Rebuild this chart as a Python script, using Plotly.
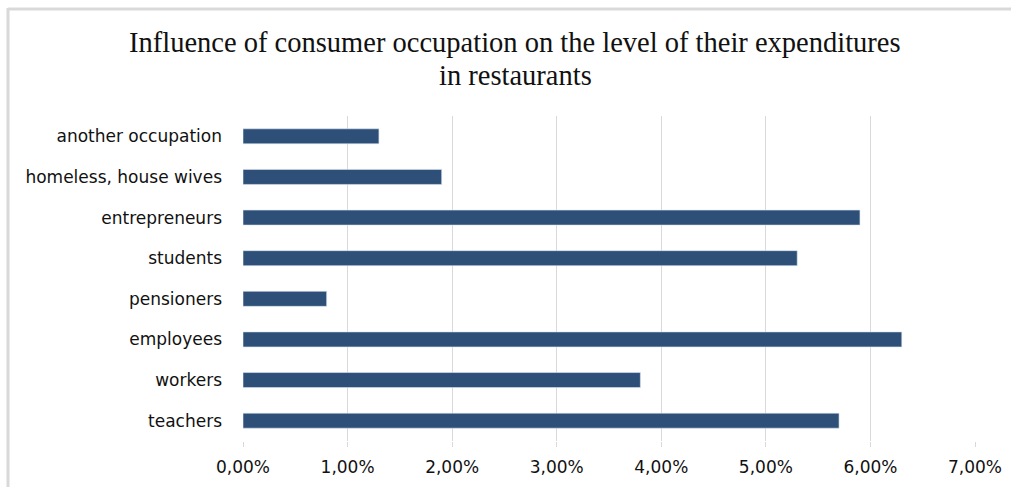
import plotly.graph_objects as go

# Share of consumers by occupation (fraction), bottom-to-top order on the axis
occupations = [
    "teachers",
    "workers",
    "employees",
    "pensioners",
    "students",
    "entrepreneurs",
    "homeless, house wives",
    "another occupation",
]
shares = [0.057, 0.038, 0.063, 0.008, 0.053, 0.059, 0.019, 0.013]

x_ticks = [0, 0.01, 0.02, 0.03, 0.04, 0.05, 0.06, 0.07]
x_tick_labels = ["0,00%", "1,00%", "2,00%", "3,00%", "4,00%", "5,00%", "6,00%", "7,00%"]

title_lines = [
    "Influence of consumer occupation on the level of their expenditures",
    "in restaurants",
]

W, H = 1011, 487
ML, MR, MT, MB = 243, 36, 116, 46
PW, PH = W - ML - MR, H - MT - MB

fig = go.Figure(
    go.Bar(
        x=shares,
        y=occupations,
        orientation="h",
        width=0.37,
        marker=dict(color="#2E5078", line=dict(color="#DCE6F2", width=0.6)),
        hoverinfo="x+y",
    )
)


def px_x(p):
    return (p - ML) / PW


def px_y(p):
    return 1 - (p - MT) / PH


# Light frame around the chart area (top and left edges)
fig.add_shape(
    type="line", xref="paper", yref="paper",
    x0=px_x(8), x1=px_x(W + 5), y0=px_y(9), y1=px_y(9),
    line=dict(color="#D9D9D9", width=3), layer="below",
)
fig.add_shape(
    type="line", xref="paper", yref="paper",
    x0=px_x(8), x1=px_x(8), y0=px_y(8), y1=px_y(H + 5),
    line=dict(color="#D9D9D9", width=3), layer="below",
)

# Two-line title, centred over the whole chart
for line, yc in zip(title_lines, [43, 75]):
    fig.add_annotation(
        text=line,
        xref="paper", yref="paper",
        x=px_x(515), y=px_y(yc),
        xanchor="center", yanchor="middle",
        showarrow=False,
        font=dict(family="Liberation Serif", size=28.5, color="#111111"),
    )

fig.update_layout(
    width=W,
    height=H,
    margin=dict(l=ML, r=MR, t=MT, b=MB, autoexpand=False),
    paper_bgcolor="white",
    plot_bgcolor="white",
    showlegend=False,
    xaxis=dict(
        range=[0, 0.07],
        tickvals=x_ticks,
        ticktext=x_tick_labels,
        showgrid=True,
        gridcolor="#D9D9D9",
        gridwidth=1,
        zeroline=False,
        showline=False,
        ticks="outside",
        ticklen=5,
        tickcolor="#D9D9D9",
        ticklabelstandoff=6,
        tickfont=dict(family="DejaVu Sans", size=17, color="#111111"),
        automargin=False,
        fixedrange=True,
    ),
    yaxis=dict(
        categoryorder="array",
        categoryarray=occupations,
        showgrid=False,
        zeroline=False,
        showline=False,
        ticks="",
        ticklabelstandoff=20,
        tickfont=dict(family="DejaVu Sans", size=17, color="#111111"),
        automargin=False,
        fixedrange=True,
    ),
)

fig.write_html("out.html")
